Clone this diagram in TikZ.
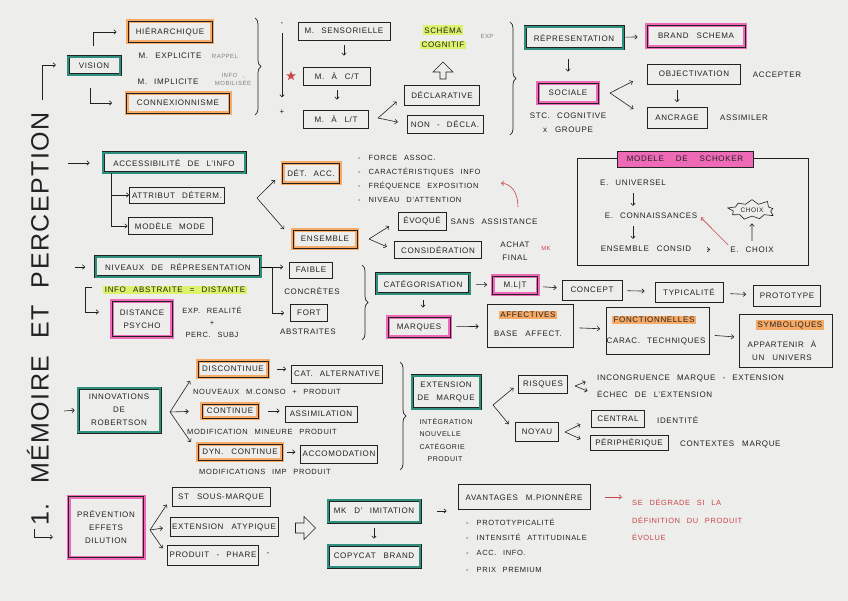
\documentclass[tikz,border=0pt]{standalone}
\usepackage{fontspec}
\setmainfont{Liberation Sans}[LetterSpace=8, WordSpace=2.5]
\newfontfamily\titlefont{Liberation Sans}[LetterSpace=6, WordSpace=2]
\usepackage{xcolor}
\usepackage{tikz}
\usetikzlibrary{shapes.geometric, shapes.symbols, shapes.arrows, arrows.meta, decorations.pathreplacing, positioning}

\definecolor{paper}{HTML}{EDEDEB}
\definecolor{ink}{HTML}{222222}
\definecolor{tealc}{HTML}{2F8F7D}
\definecolor{orangec}{HTML}{F6AA66}
\definecolor{pinkc}{HTML}{EE6AB6}
\definecolor{limec}{HTML}{DDF26A}
\definecolor{redc}{HTML}{C8464A}

\begin{document}
\begin{tikzpicture}[
  x=1pt, y=-1pt,
  every node/.style={font=\fontsize{8}{13}\selectfont, text=ink, inner sep=2pt},
  block/.style={draw=ink, line width=0.6pt, align=center},
  tblock/.style={block, double=tealc, double distance=2pt, line width=0.5pt},
  oblock/.style={block, preaction={draw=orangec, line width=4pt}},
  pblock/.style={block, preaction={draw=pinkc, line width=4pt}},
  hl/.style={fill=limec, inner sep=1.5pt},
  ohl/.style={fill=orangec, inner sep=1.5pt},
  note/.style={font=\fontsize{6}{8}\selectfont, text=gray},
  item/.style={anchor=west, font=\fontsize{7.5}{12}\selectfont},
  rnote/.style={text=redc, align=left},
  arrow/.style={draw=ink, -{Straight Barb[length=2.5pt,width=4.5pt]}, line width=0.6pt},
  rarrow/.style={arrow, draw=redc},
  curly/.style={draw=ink, decorate, decoration={brace, amplitude=6pt}, line width=0.7pt}
]
  \fill[paper] (0,0) rectangle (848,601);
  \useasboundingbox (0,0) rectangle (848,601);

  % Title
  \node[rotate=90, font=\titlefont\fontsize{25}{25}\selectfont] (title) at (38,319) {1. MÉMOIRE ET PERCEPTION};
  \coordinate (visin1) at (42,100);
  \coordinate (visin2) at (56,65);
  \draw[arrow] (visin1) |- (visin2);
  \coordinate (previn1) at (34,529);
  \coordinate (previn2) at (53,537);
  \draw[arrow] (previn1) |- (previn2);

  % Vision
  \node[tblock, minimum width=52pt, minimum height=18pt] (vision) at (94,66) {VISION};
  \node[oblock, minimum width=84pt, minimum height=21pt] (hier) at (170,32) {HIÉRARCHIQUE};
  \node (mexp) at (170,56) {M. EXPLICITE};
  \node[note] (rappel) at (225,56) {RAPPEL};
  \node (mimp) at (168,82) {M. IMPLICITE};
  \node[note, align=center] (mobil) at (233,79) {INFO ,\\MOBILISÉE};
  \node[oblock, minimum width=103pt, minimum height=20pt] (connex) at (178,103) {CONNEXIONNISME};
  \coordinate (vis1) at (93,46);
  \coordinate (vis2) at (90,88);
  \draw[arrow, shorten >=11pt] (vis1) |- (hier.west);
  \draw[arrow, shorten >=14pt] (vis2) |- (connex.west);
  \coordinate (br1t) at (255,18);
  \coordinate (br1b) at (255,115);
  \draw[curly] (br1t) -- (br1b);

  % Memoires
  \node (minus) at (282,24) {-};
  \node (plus) at (282,112) {+};
  \draw[arrow, shorten <=6pt, shorten >=10pt] (minus) -- (plus);
  \node[star, star points=5, star point ratio=2.4, fill=redc, minimum size=10pt, inner sep=0pt] (rstar) at (291,76) {};
  \node[block, minimum width=92pt, minimum height=18pt] (msens) at (344,31) {M. SENSORIELLE};
  \node[block, minimum width=67pt, minimum height=18pt] (mct) at (337,76) {M. À\quad C/T};
  \node[block, minimum width=65pt, minimum height=18pt] (mlt) at (336,119) {M. À\quad L/T};
  \draw[arrow, shorten <=5pt, shorten >=11pt] (msens.south) -- (msens.south |- mct.north);
  \draw[arrow, shorten <=5pt, shorten >=10pt] (mct.south) -- (mct.south |- mlt.north);
  \node[block, minimum width=75pt, minimum height=20pt] (decl) at (442,95) {DÉCLARATIVE};
  \node[block, minimum width=76pt, minimum height=18pt] (nondecl) at (445,124) {NON - DÉCLA.};
  \coordinate (ltfork) at (378,118);
  \draw[arrow, shorten >=10pt] (ltfork) -- (decl.west);
  \draw[arrow, shorten >=9pt] (ltfork) -- (nondecl.west);
  \node[single arrow, draw=ink, line width=0.6pt, shape border rotate=90, minimum height=17pt, minimum width=20pt, single arrow head extend=3pt, inner sep=1pt] (upar) at (443,72) {};
  \node[hl] (schema1) at (443,30) {SCHÉMA};
  \node[hl] (schema2) at (443,45) {COGNITIF};
  \node[note] (exp) at (487,36) {EXP};
  \coordinate (br2t) at (510,22);
  \coordinate (br2b) at (510,135);
  \draw[curly] (br2t) -- (br2b);

  % Representation
  \node[tblock, minimum width=98pt, minimum height=22pt] (repr) at (574,38) {RÉPRESENTATION};
  \node[pblock, minimum width=98pt, minimum height=22pt] (brand) at (696,36) {BRAND\quad SCHEMA};
  \draw[arrow, shorten <=2pt, shorten >=9pt] (repr) -- (brand);
  \node[pblock, minimum width=60pt, minimum height=20pt] (sociale) at (568,93) {SOCIALE};
  \draw[arrow, shorten <=10pt, shorten >=11pt] (repr.south -| sociale) -- (sociale.north);
  \node (stc) at (568,116) {STC. COGNITIVE};
  \node (groupe) at (568,130) {x\quad GROUPE};
  \node[block, minimum width=93pt, minimum height=20pt] (objec) at (694,74) {OBJECTIVATION};
  \node[block, minimum width=60pt, minimum height=21pt] (ancrage) at (677,118) {ANCRAGE};
  \coordinate (socfork) at (610,93);
  \draw[arrow, shorten >=16pt] (socfork) -- (objec.west);
  \draw[arrow, shorten >=16pt] (socfork) -- (ancrage.west);
  \draw[arrow, shorten <=6pt, shorten >=5pt] (objec.south -| ancrage) -- (ancrage.north);
  \node (accepter) at (777,75) {ACCEPTER};
  \node (assimiler) at (744,118) {ASSIMILER};

  % Accessibilite
  \coordinate (accin) at (68,163);
  \node[tblock, minimum width=142pt, minimum height=20pt] (access) at (174,163) {ACCESSIBILITÉ DE L'INFO};
  \draw[arrow, shorten >=13pt] (accin) -- (access.west);
  \node[block, minimum width=95pt, minimum height=16pt] (attrib) at (177,195) {ATTRIBUT DÉTERM.};
  \node[block, minimum width=84pt, minimum height=17pt] (modele) at (170,226) {MODÈLE MODE};
  \draw[arrow] ([xshift=9pt]access.south west) |- (attrib.west);
  \draw[arrow] ([xshift=9pt]access.south west) |- (modele.west);
  \node[oblock, minimum width=57pt, minimum height=20pt] (detacc) at (311,173) {DÉT. ACC.};
  \node[oblock, minimum width=64pt, minimum height=18pt] (ensemble) at (325,239) {ENSEMBLE};
  \coordinate (accfork) at (257,198);
  \draw[arrow, shorten >=10pt] (accfork) -- (detacc.west);
  \draw[arrow, shorten >=13pt] (accfork) -- (ensemble.west);
  \node[item] (force) at (356,158) {-\hspace{8pt}FORCE ASSOC.};
  \node[item] (carac) at (356,172) {-\hspace{8pt}CARACTÉRISTIQUES INFO};
  \node[item] (freq) at (356,186) {-\hspace{8pt}FRÉQUENCE EXPOSITION};
  \node[item] (niveau) at (356,200) {-\hspace{8pt}NIVEAU D'ATTENTION};
  \coordinate (rc1) at (518,207);
  \coordinate (rc2) at (501,183);
  \draw[rarrow] (rc1) .. controls (518,192) and (511,184) .. (rc2);
  \node[block, minimum width=48pt, minimum height=18pt] (evoque) at (422,221) {ÉVOQUÉ};
  \node[block, minimum width=87pt, minimum height=17pt] (consid) at (438,250) {CONSIDÉRATION};
  \coordinate (ensfork) at (369,239);
  \draw[arrow, shorten >=10pt] (ensfork) -- (evoque.west);
  \draw[arrow, shorten >=8pt] (ensfork) -- (consid.west);
  \node (sans) at (494,222) {SANS ASSISTANCE};
  \node[align=center] (achat) at (515,251) {ACHAT\\FINAL};
  \node[rnote, font=\fontsize{6}{8}\selectfont] (mk) at (546,248) {MK};

  % Schoker
  \node[draw=ink, line width=0.6pt, minimum width=231pt, minimum height=107pt] (schokbox) at (692.5,211.5) {};
  \node[block, fill=pinkc, minimum width=136pt, minimum height=16pt] (schoker) at (685,159) {MODELE\hspace{12pt}DE\hspace{12pt}SCHOKER};
  \node (euniv) at (633,183) {E. UNIVERSEL};
  \node (econn) at (651,216) {E. CONNAISSANCES};
  \node (enscons) at (646,249) {ENSEMBLE\quad CONSID};
  \node (echoix) at (752,250) {E. CHOIX};
  \node[starburst, draw=ink, line width=0.6pt, starburst points=9, starburst point height=6pt, minimum width=50pt, minimum height=24pt, font=\fontsize{6.5}{8}\selectfont] (choix) at (752,210) {CHOIX};
  \draw[arrow, shorten <=5pt, shorten >=5pt] (euniv.south) -- (euniv.south |- econn.north);
  \draw[arrow, shorten <=5pt, shorten >=5pt] (econn.south -| euniv.south) -- (euniv.south |- enscons.north);
  \draw[arrow, shorten <=14pt, shorten >=18pt] (enscons) -- (echoix);
  \draw[arrow, shorten <=4pt, shorten >=7pt] (echoix.north) -- (choix.south);
  \draw[rarrow, shorten >=2pt] (echoix.north west) -- (econn.east);

  % Niveaux de representation
  \coordinate (nivin) at (75,267);
  \node[tblock, minimum width=165pt, minimum height=20pt] (niv) at (178,267) {NIVEAUX DE RÉPRESENTATION};
  \draw[arrow, shorten >=10pt] (nivin) -- (niv.west);
  \node[block, minimum width=43pt, minimum height=16pt] (faible) at (311,270) {FAIBLE};
  \node (concretes) at (312,291) {CONCRÈTES};
  \node[block, minimum width=37pt, minimum height=17pt] (fort) at (309,313) {FORT};
  \node (abstraites) at (308,332) {ABSTRAITES};
  \coordinate (nivsplit) at (272,267);
  \draw (niv.east) -- (nivsplit);
  \draw[arrow, shorten >=6pt] (nivsplit) -- (nivsplit -| faible.west);
  \draw[arrow, shorten >=6pt] (nivsplit) |- (fort.west);
  \node[hl] (infoabs) at (175,290) {INFO ABSTRAITE = DISTANTE};
  \node[pblock, minimum width=60pt, minimum height=35pt] (dist) at (142,319) {DISTANCE\\PSYCHO};
  \coordinate (absl) at (92,287);
  \coordinate (absc) at (85,287);
  \coordinate (abse) at (99,312);
  \draw[arrow] (absl) -- (absc) |- (abse);
  \node[align=center, font=\fontsize{7.5}{12}\selectfont] (expreal) at (212,322) {EXP. REALITÉ\\+\\PERC. SUBJ};
  \coordinate (br3t) at (362,265);
  \coordinate (br3b) at (362,340);
  \draw[curly] (br3t) -- (br3b);

  % Categorisation
  \node[tblock, minimum width=93pt, minimum height=20pt] (categ) at (423,284) {CATÉGORISATION};
  \node[pblock, minimum width=45pt, minimum height=18pt] (mlt2) at (515,285) {M.L|T};
  \node[block, minimum width=60pt, minimum height=20pt] (concept) at (592,290) {CONCEPT};
  \node[block, minimum width=68pt, minimum height=20pt] (typ) at (689,292) {TYPICALITÉ};
  \node[block, minimum width=67pt, minimum height=21pt] (proto) at (787,296) {PROTOTYPE};
  \draw[arrow, shorten <=6pt, shorten >=5pt] (categ) -- (mlt2);
  \draw[arrow, shorten <=5pt, shorten >=5pt] (mlt2) -- (concept);
  \draw[arrow, shorten <=5pt, shorten >=10pt] (concept) -- (typ);
  \draw[arrow, shorten <=7pt, shorten >=7pt] (typ) -- (proto);
  \node[pblock, minimum width=62pt, minimum height=20pt] (marques) at (419,327) {MARQUES};
  \draw[arrow, shorten <=6pt, shorten >=9pt] (categ.south) -- (categ.south |- marques.north);
  \node[block, minimum width=86pt, minimum height=43pt] (affbox) at (530,326) {};
  \node[ohl] (afftitle) at (528,315) {AFFECTIVES};
  \node (afftxt) at (528,334) {BASE\quad AFFECT.};
  \node[block, minimum width=103pt, minimum height=47pt] (foncbox) at (658,331) {};
  \node[ohl] (fonctitle) at (654,320) {FONCTIONNELLES};
  \node (fonctxt) at (656,341) {CARAC. TECHNIQUES};
  \node[block, minimum width=93pt, minimum height=53pt] (symbbox) at (786,341) {};
  \node[ohl] (symbtitle) at (790,325) {SYMBOLIQUES};
  \node[align=center] (symbtxt) at (782,351) {APPARTENIR À\\UN\quad UNIVERS};
  \draw[arrow, shorten <=6pt, shorten >=8pt] (marques) -- (affbox);
  \draw[arrow, shorten <=6pt, shorten >=6pt] (affbox) -- (foncbox);
  \draw[arrow, shorten <=5pt, shorten >=5pt] (foncbox) -- (symbbox);

  % Innovations
  \coordinate (innin) at (64,411);
  \node[tblock, minimum width=82pt, minimum height=44pt] (innov) at (119,410) {INNOVATIONS\\DE\\ROBERTSON};
  \draw[arrow, shorten >=3pt] (innin) -- (innov.west);
  \node[oblock, minimum width=70pt, minimum height=16pt] (disc) at (233,369) {DISCONTINUE};
  \node[oblock, minimum width=56pt, minimum height=14pt] (cont) at (230,411) {CONTINUE};
  \node[oblock, minimum width=84pt, minimum height=16pt] (dyn) at (240,452) {DYN.\quad CONTINUE};
  \coordinate (innfork) at (170,412);
  \draw[arrow, shorten >=14pt] (innfork) -- (disc.west);
  \draw[arrow, shorten >=13pt] (innfork) -- (cont.west);
  \draw[arrow, shorten >=12pt] (innfork) -- (dyn.west);
  \node[block, minimum width=91pt, minimum height=18pt] (catalt) at (337,374) {CAT. ALTERNATIVE};
  \node[block, minimum width=72pt, minimum height=16pt] (assim) at (321,414) {ASSIMILATION};
  \node[block, minimum width=73pt, minimum height=18pt] (accom) at (339,454) {ACCOMODATION};
  \draw[arrow, shorten <=9pt, shorten >=5pt] (disc.east) -- (disc.east -| catalt.west);
  \draw[arrow, shorten <=10pt, shorten >=5pt] (cont.east) -- (cont.east -| assim.west);
  \draw[arrow, shorten <=5pt, shorten >=5pt] (dyn.east) -- (dyn.east -| accom.west);
  \node[font=\fontsize{7.5}{12}\selectfont] (nouv) at (267,392) {NOUVEAUX M.CONSO + PRODUIT};
  \node[font=\fontsize{7.5}{12}\selectfont] (modmin) at (262,432) {MODIFICATION MINEURE PRODUIT};
  \node[font=\fontsize{7.5}{12}\selectfont] (modimp) at (265,472) {MODIFICATIONS IMP PRODUIT};
  \coordinate (br4t) at (400,362);
  \coordinate (br4b) at (400,470);
  \draw[curly] (br4t) -- (br4b);

  % Extension de marque
  \node[tblock, minimum width=68pt, minimum height=33pt] (ext) at (446,392) {EXTENSION\\DE MARQUE};
  \node[align=left, font=\fontsize{7}{12.5}\selectfont] (integ) at (446,440) {INTÉGRATION\\NOUVELLE\\CATÉGORIE\\\hspace*{8pt}PRODUIT};
  \node[block, minimum width=49pt, minimum height=18pt] (risques) at (543,384) {RISQUES};
  \node[block, minimum width=43pt, minimum height=19pt] (noyau) at (537,432) {NOYAU};
  \coordinate (extfork) at (493,405);
  \draw[arrow, shorten >=6pt] (extfork) -- (risques.west);
  \draw[arrow, shorten >=10pt] (extfork) -- (noyau.west);
  \node[anchor=west] (incong) at (595,378) {INCONGRUENCE MARQUE - EXTENSION};
  \node[anchor=west] (echec) at (595,394) {ÉCHEC DE L'EXTENSION};
  \coordinate (risqfork) at (575,386);
  \draw[arrow, shorten >=10pt] (risqfork) -- (incong.west);
  \draw[arrow, shorten >=8pt] (risqfork) -- (echec.west);
  \node[block, minimum width=53pt, minimum height=17pt] (central) at (618,419) {CENTRAL};
  \node[block, minimum width=78pt, minimum height=15pt] (periph) at (629,443) {PÉRIPHÉRIQUE};
  \node[anchor=west] (ident) at (655,420) {IDENTITÉ};
  \node[anchor=west] (contextes) at (678,444) {CONTEXTES\quad MARQUE};
  \coordinate (noyfork) at (565,432);
  \draw[arrow, shorten >=12pt] (noyfork) -- (central.west);
  \draw[arrow, shorten >=10pt] (noyfork) -- (periph.west);

  % Prevention
  \node[pblock, minimum width=75pt, minimum height=61pt] (prev) at (106,527) {PRÉVENTION\\EFFETS\\DILUTION};
  \node[block, minimum width=98pt, minimum height=19pt] (sous) at (221,497) {ST\quad SOUS-MARQUE};
  \node[block, minimum width=105pt, minimum height=19pt] (atyp) at (224,527) {EXTENSION\quad ATYPIQUE};
  \node[block, minimum width=87pt, minimum height=20pt] (phare) at (213,555) {PRODUIT - PHARE};
  \coordinate (prevfork) at (150,530);
  \draw[arrow, shorten >=9pt] (prevfork) -- (sous.west);
  \draw[arrow, shorten >=7pt] (prevfork) -- (atyp.west);
  \draw[arrow, shorten >=8pt] (prevfork) -- (phare.west);
  \node (phdash) at (268,554) {-};
  \node[single arrow, draw=ink, line width=0.6pt, minimum height=20pt, minimum width=23pt, single arrow head extend=3pt] (bigar) at (303,528) {};
  \node[tblock, minimum width=92pt, minimum height=22pt] (mkimit) at (374,511) {MK\quad D' IMITATION};
  \node[tblock, minimum width=92pt, minimum height=22pt] (copycat) at (374,556) {COPYCAT\quad BRAND};
  \draw[arrow, shorten <=6pt, shorten >=6pt] (mkimit) -- (copycat);
  \node[block, minimum width=132pt, minimum height=25pt] (avant) at (524,497) {AVANTAGES\quad M.PIONNÈRE};
  \draw[arrow, shorten <=17pt, shorten >=11pt] (mkimit.east) -- (mkimit.east -| avant.west);
  \node[item] (protot) at (464,522) {-\hspace{8pt}PROTOTYPICALITÉ};
  \node[item] (intens) at (464,537) {-\hspace{8pt}INTENSITÉ ATTITUDINALE};
  \node[item] (accinfo) at (464,553) {-\hspace{8pt}ACC. INFO.};
  \node[item] (prix) at (464,570) {-\hspace{8pt}PRIX PREMIUM};
  \node[rnote, anchor=north west, font=\fontsize{7.5}{17.5}\selectfont] (rtext) at (630,497) {SE DÉGRADE SI LA\\DÉFINITION DU PRODUIT\\ÉVOLUE};
  \draw[rarrow, shorten <=15pt, shorten >=8pt] (avant.east) -- (avant.east -| rtext.west);
\end{tikzpicture}
\end{document}
